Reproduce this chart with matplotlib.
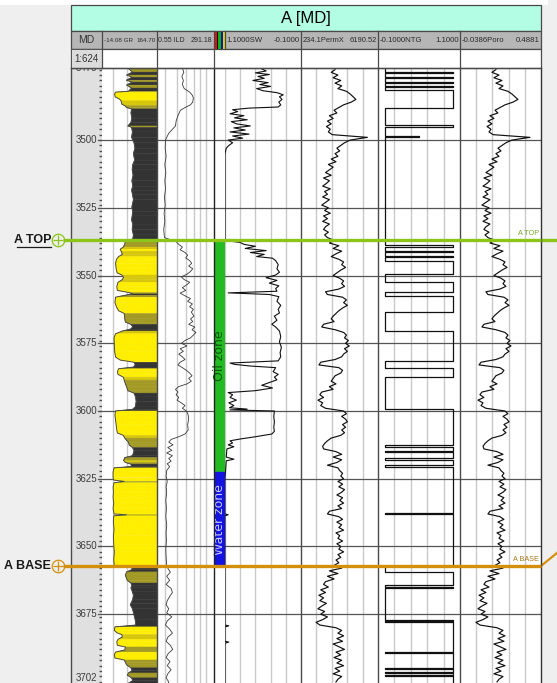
import numpy as np
import matplotlib
matplotlib.use("Agg")
import matplotlib.pyplot as plt
from matplotlib.patches import Rectangle
from matplotlib.collections import PolyCollection
from matplotlib.lines import Line2D
from matplotlib.transforms import blended_transform_factory, offset_copy, IdentityTransform

plt.rcParams['font.family'] = ['Liberation Sans Narrow', 'Liberation Sans', 'DejaVu Sans']

# ---------------------------------------------------------------- well data
well_title = "A [MD]"
depth_top, depth_bottom = 3473.4, 3700.4
depth_ticks = [3500, 3525, 3550, 3575, 3600, 3625, 3650, 3675]
depth_top_label, depth_bottom_label = "3473", "3702"
scale_label = "1:624"

gr_range = (-14.08, 164.70)
ild_range = (0.55, 291.18)
sw_range = (1.1, -0.1)
permx_range = (234.1, 6190.52)
ntg_range = (-0.1, 1.1)
poro_range = (-0.0386, 0.4881)

tops_names = ["A TOP", "A BASE"]
tops_depth = [3536.9, 3657.2]
tops_colour = ["#8cc41a", "#d4900c"]
tops_text_colour = ["#7aa82a", "#a87818"]

zone_names = ["Oil zone", "Water zone"]
zone_top = [3536.9, 3622.6]
zone_base = [3622.6, 3657.2]
zone_fill = ["#22bb22", "#1414e0"]
zone_text = ["#0a5a0a", "#c8c8ff"]

# gamma ray (API)
gr_depth = [
    3473.4, 3474.9, 3476.0, 3476.8, 3477.9, 3478.6, 3479.7, 3480.8, 3482.0, 3482.3,
    3483.0, 3484.1, 3484.8, 3485.5, 3486.7, 3487.3, 3488.0, 3488.5, 3490.0, 3491.9,
    3493.5, 3494.8, 3495.3, 3497.0, 3499.0, 3501.0, 3503.0, 3505.0, 3507.4, 3509.0,
    3511.0, 3512.9, 3515.0, 3517.0, 3518.5, 3520.0, 3522.0, 3524.7, 3526.5, 3528.0,
    3529.5, 3531.0, 3533.0, 3535.0, 3536.5, 3537.2, 3538.4, 3539.5, 3540.3, 3541.0,
    3542.2, 3543.0, 3544.0, 3545.5, 3547.5, 3549.0, 3549.8, 3550.6, 3551.5, 3552.5,
    3554.0, 3555.5, 3556.3, 3556.8, 3557.3, 3558.0, 3560.0, 3561.6, 3563.0, 3564.0,
    3566.0, 3567.2, 3568.0, 3569.0, 3569.8, 3570.5, 3571.5, 3573.0, 3575.6, 3578.0,
    3580.1, 3581.2, 3582.0, 3583.0, 3583.8, 3584.4, 3585.5, 3586.5, 3587.5, 3588.6,
    3590.0, 3591.1, 3592.5, 3593.4, 3594.8, 3596.5, 3598.5, 3599.4, 3600.0, 3601.5,
    3603.3, 3605.0, 3607.0, 3608.1, 3609.0, 3610.0, 3610.7, 3611.5, 3612.5, 3613.5,
    3614.5, 3615.5, 3616.5, 3617.2, 3618.3, 3619.0, 3619.6, 3620.5, 3621.0, 3622.5,
    3624.5, 3625.5, 3626.0, 3626.5, 3628.0, 3630.0, 3632.0, 3634.0, 3636.0, 3638.0,
    3638.3, 3638.7, 3641.0, 3643.9, 3646.0, 3649.4, 3652.0, 3655.0, 3657.0, 3657.4,
    3658.5, 3659.4, 3660.5, 3661.3, 3662.5, 3663.5, 3664.5, 3665.3, 3666.5, 3667.9,
    3669.5, 3671.0, 3671.6, 3673.0, 3675.3, 3677.1, 3679.0, 3679.7, 3681.0, 3681.9,
    3682.5, 3683.4, 3684.3, 3685.2, 3686.5, 3687.1, 3688.2, 3689.0, 3690.0, 3691.2,
    3691.9, 3692.8, 3693.7, 3694.8, 3695.8, 3696.7, 3697.5, 3698.5, 3699.5, 3700.6,
]
gr_api = [
    70, 85, 66, 84, 65, 84, 66, 82, 72, 30,
    27, 29, 42, 48, 50, 60, 66, 82, 80, 83,
    80, 70, 82, 85, 82, 90, 93, 88, 92, 86,
    84, 87, 83, 86, 82, 85, 88, 83, 86, 84,
    82, 86, 84, 88, 86, 62, 60, 55, 45, 48,
    52, 40, 33, 30, 32, 35, 50, 56, 52, 38,
    34, 36, 75, 85, 60, 30, 28, 33, 40, 58,
    60, 62, 80, 86, 78, 52, 30, 25, 26, 27,
    30, 45, 90, 94, 88, 40, 36, 38, 55, 58,
    62, 66, 70, 90, 95, 97, 94, 85, 30, 28,
    30, 32, 34, 36, 55, 60, 65, 72, 74, 85,
    90, 88, 85, 60, 56, 62, 80, 82, 25, 22,
    22, 24, 58, 25, 22, 23, 22, 24, 22, 25,
    65, 24, 23, 25, 23, 24, 26, 24, 26, 82,
    84, 66, 62, 64, 68, 80, 83, 80, 84, 88,
    86, 80, 78, 85, 90, 94, 96, 28, 26, 35,
    50, 52, 38, 34, 36, 62, 60, 30, 26, 28,
    58, 62, 66, 80, 84, 72, 68, 82, 86, 70,
]

# deep resistivity (ohm.m)
ild_depth = [
    3473.4, 3475.0, 3476.5, 3478.0, 3479.5, 3481.0, 3482.3, 3483.5, 3484.5, 3486.0,
    3487.0, 3488.0, 3489.0, 3491.0, 3493.0, 3494.8, 3496.0, 3497.5, 3499.0, 3500.0,
    3503.0, 3506.0, 3509.0, 3512.0, 3515.0, 3518.0, 3521.0, 3524.0, 3527.0, 3530.0,
    3533.0, 3536.0, 3537.5, 3538.5, 3539.5, 3540.5, 3541.5, 3542.5, 3543.5, 3544.5,
    3545.5, 3546.5, 3547.5, 3548.5, 3549.5, 3550.5, 3551.5, 3552.5, 3553.5, 3554.5,
    3555.5, 3556.5, 3557.5, 3558.5, 3559.5, 3560.5, 3561.5, 3562.5, 3563.5, 3565.0,
    3566.0, 3567.0, 3568.0, 3569.0, 3570.0, 3571.0, 3572.0, 3573.0, 3574.0, 3575.0,
    3576.0, 3577.0, 3578.0, 3579.0, 3580.0, 3581.0, 3582.0, 3583.0, 3584.0, 3585.0,
    3586.0, 3587.0, 3588.0, 3589.0, 3590.0, 3591.0, 3592.0, 3593.0, 3594.0, 3595.0,
    3596.0, 3597.0, 3598.0, 3599.0, 3600.0, 3601.5, 3603.0, 3605.0, 3607.0, 3608.5,
    3609.5, 3610.5, 3611.5, 3612.5, 3613.5, 3614.5, 3615.5, 3616.5, 3617.5, 3618.5,
    3619.5, 3620.5, 3622.0, 3624.0, 3626.0, 3628.0, 3630.0, 3633.0, 3636.0, 3639.0,
    3642.0, 3645.0, 3648.0, 3651.0, 3654.0, 3657.0, 3658.0, 3659.5, 3661.0, 3662.5,
    3664.0, 3665.5, 3667.0, 3668.5, 3670.0, 3671.5, 3673.0, 3674.5, 3676.0, 3677.5,
    3679.0, 3680.5, 3682.0, 3683.5, 3685.0, 3686.5, 3688.0, 3689.5, 3691.0, 3692.5,
    3694.0, 3695.5, 3697.0, 3698.5, 3700.0, 3700.6,
]
ild_ohmm = [
    9.0, 10.5, 8.5, 10.0, 9.0, 11.0, 20.0, 27.0, 30.0, 28.0,
    22.0, 12.0, 7.2, 5.5, 4.5, 4.2, 3.0, 2.0, 1.6, 1.4,
    1.35, 1.5, 1.3, 1.45, 1.3, 1.4, 1.25, 1.35, 1.2, 1.3,
    1.15, 1.25, 4.5, 6.0, 9.0, 7.0, 12.0, 16.0, 13.0, 20.0,
    25.0, 18.0, 28.0, 22.0, 15.0, 8.0, 11.0, 20.0, 14.0, 9.0,
    13.0, 7.0, 12.0, 22.0, 16.0, 27.0, 20.0, 30.0, 24.0, 32.0,
    22.0, 28.0, 18.0, 35.0, 26.0, 40.0, 30.0, 22.0, 12.0, 8.0,
    15.0, 7.0, 10.0, 6.0, 9.0, 12.0, 7.0, 5.5, 9.0, 14.0,
    20.0, 26.0, 18.0, 24.0, 15.0, 6.0, 4.2, 5.5, 4.5, 6.0,
    5.0, 8.0, 12.0, 9.0, 14.0, 17.0, 18.0, 16.0, 17.0, 12.0,
    6.0, 2.6, 2.0, 3.2, 1.8, 2.8, 1.6, 3.0, 2.0, 2.6,
    1.7, 2.2, 1.6, 1.5, 1.7, 1.5, 1.6, 1.45, 1.55, 1.45,
    1.6, 1.5, 1.55, 1.45, 1.5, 1.6, 1.8, 2.4, 1.6, 2.2,
    1.5, 2.6, 3.0, 2.2, 1.7, 1.5, 2.0, 1.6, 2.8, 1.7,
    1.4, 2.2, 3.0, 1.8, 1.5, 2.4, 3.1, 1.9, 1.5, 2.3,
    1.7, 2.6, 1.8, 1.5, 2.0, 1.8,
]

# water saturation (fraction)
sw_depth = [
    3473.4, 3474.5, 3475.2, 3475.8, 3476.5, 3477.2, 3478.0, 3478.8, 3479.5, 3480.2,
    3481.0, 3481.8, 3482.5, 3483.3, 3484.0, 3485.0, 3486.0, 3487.0, 3487.8, 3488.2,
    3488.8, 3489.5, 3490.3, 3491.0, 3491.8, 3492.5, 3493.2, 3494.0, 3494.8, 3495.5,
    3496.3, 3497.0, 3497.8, 3498.5, 3499.3, 3500.0, 3501.0, 3502.0, 3503.0, 3505.0,
    3536.5, 3537.2, 3537.8, 3538.5, 3539.2, 3540.0, 3540.8, 3541.5, 3542.2, 3543.0,
    3543.6, 3544.5, 3546.0, 3547.5, 3548.8, 3549.8, 3550.8, 3551.8, 3552.8, 3553.8,
    3554.8, 3555.8, 3556.4, 3557.0, 3557.8, 3559.5, 3561.0, 3562.5, 3563.8, 3565.0,
    3566.5, 3568.0, 3569.0, 3570.5, 3572.5, 3574.5, 3576.5, 3578.5, 3580.0, 3581.5,
    3582.3, 3582.8, 3583.4, 3584.0, 3585.5, 3586.5, 3587.5, 3588.5, 3589.5, 3590.5,
    3591.5, 3592.5, 3593.2, 3594.0, 3595.0, 3596.0, 3597.0, 3598.0, 3598.8, 3599.3,
    3599.6, 3600.0, 3602.0, 3604.0, 3606.0, 3607.5, 3608.5, 3609.5, 3610.3, 3611.0,
    3611.8, 3612.5, 3613.2, 3614.0, 3617.0, 3617.8, 3618.4, 3625.0, 3638.0, 3638.3,
    3638.7, 3679.0, 3679.3, 3679.7, 3685.0, 3685.3, 3685.7, 3700.6,
]
sw_frac = [
    0.55, 0.45, 0.62, 0.40, 0.58, 0.48, 0.66, 0.42, 0.55, 0.38,
    0.60, 0.50, 0.28, 0.18, 0.24, 0.20, 0.25, 0.22, 0.26, 0.72,
    0.98, 0.90, 1.02, 0.80, 0.95, 0.75, 1.00, 0.92, 0.70, 0.96,
    0.78, 1.02, 0.72, 0.98, 0.82, 1.05, 0.98, 1.04, 1.08, 1.10,
    1.10, 1.05, 0.86, 0.80, 0.62, 0.78, 0.45, 0.70, 0.48, 0.60,
    0.35, 0.30, 0.26, 0.28, 0.24, 0.30, 0.45, 0.28, 0.40, 0.25,
    0.30, 0.28, 1.05, 0.40, 0.25, 0.28, 0.22, 0.26, 0.24, 0.32,
    0.28, 0.36, 0.30, 0.24, 0.22, 0.24, 0.21, 0.23, 0.22, 0.26,
    1.02, 0.95, 0.70, 0.30, 0.34, 0.26, 0.32, 0.28, 0.40, 0.52,
    0.35, 0.62, 1.05, 0.98, 1.02, 0.92, 1.04, 0.96, 1.03, 0.75,
    1.02, 0.32, 0.33, 0.32, 0.33, 0.32, 0.36, 0.62, 0.85, 1.02,
    0.98, 1.05, 0.96, 1.07, 1.08, 0.96, 1.08, 1.10, 1.10, 1.05,
    1.10, 1.10, 1.04, 1.10, 1.10, 1.04, 1.10, 1.10,
]

# porosity / permeability, sampled every metre from 3474 m
core_depth = np.arange(3474.0, 3701.0, 1.0)
poro = [
    0.195, 0.169, 0.215, 0.182, 0.234, 0.195, 0.241, 0.215, 0.273, 0.299,
    0.319, 0.338, 0.306, 0.254, 0.221, 0.189, 0.208, 0.156, 0.182, 0.143,
    0.169, 0.137, 0.163, 0.150, 0.176, 0.416, 0.299, 0.260, 0.234, 0.208,
    0.228, 0.195, 0.215, 0.169, 0.202, 0.150, 0.182, 0.156, 0.130, 0.169,
    0.117, 0.156, 0.137, 0.111, 0.163, 0.124, 0.143, 0.111, 0.156, 0.130,
    0.104, 0.150, 0.124, 0.163, 0.117, 0.143, 0.111, 0.156, 0.130, 0.117,
    0.150, 0.124, 0.143, 0.189, 0.156, 0.221, 0.182, 0.241, 0.202, 0.169,
    0.221, 0.254, 0.241, 0.267, 0.234, 0.208, 0.182, 0.228, 0.254, 0.241,
    0.260, 0.221, 0.130, 0.143, 0.247, 0.273, 0.254, 0.280, 0.247, 0.221,
    0.202, 0.182, 0.169, 0.189, 0.117, 0.104, 0.195, 0.254, 0.273, 0.260,
    0.286, 0.267, 0.293, 0.260, 0.280, 0.254, 0.241, 0.195, 0.098, 0.085,
    0.221, 0.247, 0.234, 0.195, 0.182, 0.169, 0.202, 0.156, 0.182, 0.104,
    0.091, 0.117, 0.078, 0.111, 0.098, 0.130, 0.254, 0.273, 0.241, 0.267,
    0.280, 0.247, 0.267, 0.241, 0.260, 0.234, 0.169, 0.143, 0.124, 0.111,
    0.117, 0.202, 0.241, 0.182, 0.241, 0.208, 0.143, 0.215, 0.228, 0.247,
    0.234, 0.254, 0.215, 0.247, 0.221, 0.260, 0.241, 0.208, 0.247, 0.228,
    0.254, 0.215, 0.241, 0.156, 0.143, 0.221, 0.247, 0.208, 0.241, 0.221,
    0.254, 0.202, 0.228, 0.215, 0.247, 0.208, 0.234, 0.221, 0.254, 0.215,
    0.234, 0.202, 0.221, 0.189, 0.241, 0.156, 0.215, 0.143, 0.189, 0.130,
    0.117, 0.150, 0.098, 0.130, 0.085, 0.117, 0.091, 0.137, 0.104, 0.078,
    0.124, 0.098, 0.143, 0.111, 0.065, 0.091, 0.202, 0.241, 0.215, 0.254,
    0.208, 0.247, 0.182, 0.221, 0.260, 0.202, 0.234, 0.189, 0.241, 0.208,
    0.254, 0.195, 0.228, 0.182, 0.241, 0.215, 0.202,
]
permx = [
    2870, 2570, 3090, 2720, 3310, 2870, 3380, 3090, 3750, 4040,
    4260, 4480, 4120, 3530, 3160, 2790, 3010, 2430, 2720, 2280,
    2570, 2200, 2500, 2350, 2650, 5370, 4040, 3600, 3310, 3010,
    3230, 2870, 3090, 2570, 2940, 2350, 2720, 2430, 2130, 2570,
    1980, 2430, 2200, 1910, 2500, 2060, 2280, 1910, 2430, 2130,
    1840, 2350, 2060, 2500, 1980, 2280, 1910, 2430, 2130, 1980,
    2350, 2060, 2280, 2790, 2430, 3160, 2720, 3380, 2940, 2570,
    3160, 3530, 3380, 3680, 3310, 3010, 2720, 3230, 3530, 3380,
    3600, 3160, 2130, 2280, 3450, 3750, 3530, 3820, 3450, 3160,
    2940, 2720, 2570, 2790, 1980, 1840, 2870, 3530, 3750, 3600,
    3900, 3680, 3970, 3600, 3820, 3530, 3380, 2870, 1760, 1620,
    3160, 3450, 3310, 2870, 2720, 2570, 2940, 2430, 2720, 1840,
    1690, 1980, 1540, 1910, 1760, 2130, 3530, 3750, 3380, 3680,
    3820, 3450, 3680, 3380, 3600, 3310, 2570, 2280, 2060, 1910,
    1980, 2940, 3380, 2720, 3380, 3010, 2280, 3090, 3230, 3450,
    3310, 3530, 3090, 3450, 3160, 3600, 3380, 3010, 3450, 3230,
    3530, 3090, 3380, 2430, 2280, 3160, 3450, 3010, 3380, 3160,
    3530, 2940, 3230, 3090, 3450, 3010, 3310, 3160, 3530, 3090,
    3310, 2940, 3160, 2790, 3380, 2430, 3090, 2280, 2790, 2130,
    1980, 2350, 1760, 2130, 1620, 1980, 1690, 2200, 1840, 1540,
    2060, 1760, 2280, 1910, 1400, 1690, 2940, 3380, 3090, 3530,
    3010, 3450, 2720, 3160, 3600, 2940, 3310, 2790, 3380, 3010,
    3530, 2870, 3230, 2720, 3380, 3090, 2940,
]

# net-to-gross flag, constant between successive interval tops
ntg_top = [
    3473.4, 3474.9, 3475.3, 3476.7, 3477.1, 3478.4, 3478.8, 3479.9, 3480.3, 3481.5,
    3488.2, 3494.5, 3495.3, 3498.6, 3499.0, 3538.9, 3539.3, 3540.9, 3541.3, 3542.9,
    3543.3, 3544.5, 3549.6, 3552.3, 3556.2, 3557.5, 3563.5, 3570.5, 3581.5, 3584.3,
    3587.3, 3599.3, 3612.5, 3613.4, 3614.8, 3615.2, 3617.3, 3618.0, 3620.0, 3620.6,
    3637.6, 3638.0, 3657.3, 3659.4, 3664.2, 3665.1, 3665.5, 3677.0, 3677.5, 3678.0,
    3689.1, 3689.5, 3695.0, 3695.4, 3696.2, 3696.6, 3697.6, 3698.0,
]
ntg_flag = [
    0, 1, 0, 1, 0, 1, 0, 1, 0, 1,
    0, 1, 0, 0.5, 0, 1, 0, 1, 0, 1,
    0, 1, 0, 1, 0, 1, 0, 1, 0, 1,
    0, 1, 0, 1, 0, 1, 0, 1, 0, 1,
    0, 1, 0, 1, 0, 1, 0, 1, 0, 1,
    0, 1, 0, 1, 0, 1, 0, 1,
]

assert len(gr_depth) == len(gr_api)
assert len(ild_depth) == len(ild_ohmm)
assert len(sw_depth) == len(sw_frac)
assert len(core_depth) == len(poro) == len(permx)
assert len(ntg_top) == len(ntg_flag)

# ---------------------------------------------------------------- layout (pixels)
W, H = 557, 683
Y_DATA0, Y_DATA1 = 68, 683
X_MD = (71, 102)
X_GR = (102, 157)
X_ILD = (157, 214)
X_ZONE = (214, 225)
X_SW = (225, 301)
X_PERM = (301, 378)
X_NTG = (378, 460)
X_PORO = (460, 541)

GRID = '#c9c9c9'
DEPTH_LINE = '#555555'
BORDER = '#4a4a4a'
NARROW = ['Liberation Sans Narrow', 'Liberation Sans', 'DejaVu Sans']

fig = plt.figure(figsize=(W / 100, H / 100), dpi=100)
fig.patch.set_facecolor('#efefef')


def px_axes(x0, y0, x1, y1, **kw):
    return fig.add_axes([x0 / W, 1 - y1 / H, (x1 - x0) / W, (y1 - y0) / H], **kw)


def make_track(xs, xlim, xscale='linear', face='white', grid=()):
    ax = px_axes(xs[0], Y_DATA0, xs[1], Y_DATA1)
    ax.set_xscale(xscale)
    ax.set_xlim(*xlim)
    ax.set_ylim(depth_bottom, depth_top)
    ax.set_facecolor(face)
    ax.tick_params(which='both', length=0, labelbottom=False, labelleft=False)
    for s in ax.spines.values():
        s.set_visible(False)
    for f in grid:
        ax.plot([f, f], [0, 1], transform=ax.transAxes, color=GRID, lw=1.0, zorder=1)
    for d in depth_ticks:
        ax.axhline(d, color=DEPTH_LINE, lw=0.9, zorder=1.5)
    return ax


# ---------------------------------------------------------------- MD track
ax_md = make_track(X_MD, (0, 1), face='#e0e0e0')
md_blend = blended_transform_factory(ax_md.transAxes, ax_md.transData)
for line in ax_md.lines:
    line.set_xdata([0.86, 1.0])
for d in depth_ticks:
    ax_md.text(0.84, d, f"{d}", transform=md_blend, ha='right', va='center',
               fontsize=7, color='#3c3c3c', family=NARROW)
ax_md.text(0.84, depth_top, depth_top_label, transform=md_blend, ha='right', va='center',
           fontsize=7, color='#3c3c3c', family=NARROW, clip_on=False)
ax_md.text(0.84, depth_bottom, depth_bottom_label, transform=md_blend, ha='right',
           va='bottom', fontsize=7, color='#3c3c3c', family=NARROW)
minor = np.arange(3474, 3701, 2)
ax_md.plot(np.full(minor.shape, 0.97), minor, transform=md_blend, ls='none',
           marker='_', ms=2.2, mew=1.0, color='#505050')

# ---------------------------------------------------------------- GR track
ax_gr = make_track(X_GR, gr_range, grid=(0.2, 0.45, 0.7))


def gr_colour(v):
    if v < 48:
        return '#ffee00'
    if v < 58:
        return '#d6c60c'
    if v < 78:
        return '#a39a26'
    return '#333333'


# lithology shading from the curve to the right edge, coloured by the value at each sample
polys, cols = [], []
for i in range(len(gr_depth) - 1):
    d0, d1 = gr_depth[i], gr_depth[i + 1]
    v0, v1 = gr_api[i], gr_api[i + 1]
    polys.append([(v0, d0), (v1, d1), (gr_range[1], d1), (gr_range[1], d0)])
    cols.append(gr_colour(v0))
ax_gr.add_collection(PolyCollection(polys, facecolors=cols, edgecolors=cols,
                                    linewidths=0.3, zorder=2))
ax_gr.plot(gr_api, gr_depth, color='#4a4a4a', lw=0.7, zorder=3)

# ---------------------------------------------------------------- ILD track
ax_ild = make_track(X_ILD, ild_range, xscale='log',
                    grid=(0.14, 0.35, 0.51, 0.65, 0.75, 0.86))
ax_ild.plot(ild_ohmm, ild_depth, color='#3a3a3a', lw=0.6, zorder=3)

# ---------------------------------------------------------------- zone track
ax_zone = make_track(X_ZONE, (0, 1))
zblend = blended_transform_factory(ax_zone.transAxes, ax_zone.transData)
for name, top, base, fc, tc in zip(zone_names, zone_top, zone_base, zone_fill, zone_text):
    ax_zone.axhspan(top, base, xmin=0.05, xmax=1.0, color=fc, zorder=2)
    ax_zone.text(0.5, 0.5 * (top + base), name, transform=zblend, rotation=90,
                 ha='center', va='center', color=tc, fontsize=9, family='DejaVu Sans', zorder=3)

# ---------------------------------------------------------------- SW track
ax_sw = make_track(X_SW, sw_range, grid=(0.0, 0.2, 0.4, 0.6, 0.8))
ax_sw.plot(sw_frac, sw_depth, color='#111111', lw=0.8, zorder=3)

# ---------------------------------------------------------------- PermX track
ax_perm = make_track(X_PERM, permx_range, grid=(0.2, 0.4, 0.6, 0.8))
ax_perm.plot(permx, core_depth, color='#111111', lw=0.85, zorder=3)

# ---------------------------------------------------------------- NTG track
ax_ntg = make_track(X_NTG, ntg_range, grid=(0.2, 0.4, 0.6, 0.8))
bounds = ntg_top + [depth_bottom]
xs, ys = [], []
for i, v in enumerate(ntg_flag):
    xs += [v, v]
    ys += [bounds[i], bounds[i + 1]]
ax_ntg.plot(xs, ys, color='#111111', lw=0.9, zorder=3)

# ---------------------------------------------------------------- Poro track
ax_poro = make_track(X_PORO, poro_range, grid=(0.2, 0.4, 0.6, 0.8))
ax_poro.plot(poro, core_depth, color='#111111', lw=0.85, zorder=3)

# ---------------------------------------------------------------- header & frame
over = fig.add_axes([0, 0, 1, 1], zorder=10)
over.set_xlim(0, W)
over.set_ylim(H, 0)
over.axis('off')

over.add_patch(Rectangle((0, 0), 548, 5, fc='white', ec='none'))
over.add_patch(Rectangle((71, 5), 470, 26, fc='#b3fde5', ec=BORDER, lw=0.9))
over.text(306, 18.5, well_title, ha='center', va='center', fontsize=12, family=NARROW)
over.add_patch(Rectangle((71, 31), 470, 18, fc='#b6b6b6', ec=BORDER, lw=0.9))
over.add_patch(Rectangle((71, 49), 470, 19, fc='white', ec=BORDER, lw=0.9))
over.add_patch(Rectangle((71, 49), 31, 19, fc='#dcdcdc', ec=BORDER, lw=0.6))
over.text(86, 40, "MD", ha='center', va='center', fontsize=7.5, color='#333333', family=NARROW)
over.text(99, 58.5, scale_label, ha='right', va='center', fontsize=7, color='#333333', family=NARROW)

headers = [
    (X_GR, f"{gr_range[0]:.2f} GR", f"{gr_range[1]:.2f}", 4.5),
    (X_ILD, f"{ild_range[0]:.2f} ILD", f"{ild_range[1]:.2f}", 5.0),
    (X_SW, f"{sw_range[0]:.4f}SW", f"{sw_range[1]:.4f}", 5.6),
    (X_PERM, f"{permx_range[0]:.1f}PermX", f"{permx_range[1]:.2f}", 5.4),
    (X_NTG, f"{ntg_range[0]:.4f}NTG", f"{ntg_range[1]:.4f}", 5.6),
    (X_PORO, f"{poro_range[0]:.4f}Poro", f"{poro_range[1]:.4f}", 5.6),
]
for (x0, x1), left, right, fs in headers:
    over.text(x0 + 1.5, 40, left, ha='left', va='center', fontsize=fs, color='#2a2a2a', family=NARROW)
    over.text(x1 - 1.5, 40, right, ha='right', va='center', fontsize=fs, color='#2a2a2a', family=NARROW)

# colour key of the zone column header
for x0, x1, c in [(214, 216.8, '#e01010'), (216.8, 218, '#111111'), (218, 220.5, '#10b010'),
                  (220.5, 223, '#1010d0'), (223, 225, '#e0d800')]:
    over.add_patch(Rectangle((x0, 31.5), x1 - x0, 17, fc=c, ec='none'))

for x in [102, 157, 214, 301, 378, 460]:
    over.plot([x, x], [31, 68], color=BORDER, lw=0.9)
over.plot([225, 225], [31, 49], color=BORDER, lw=0.9)

# track borders through the log body
for x, c in [(71, BORDER), (157, BORDER), (214, '#222222'), (301, BORDER),
             (378, BORDER), (460, BORDER), (541, '#333333')]:
    over.plot([x, x], [Y_DATA0, Y_DATA1], color=c, lw=1.0)
over.plot([71, 541], [Y_DATA0, Y_DATA0], color=BORDER, lw=1.0)

# ---------------------------------------------------------------- well tops
tblend = blended_transform_factory(over.transData, ax_gr.transData)
for name, d, col, tcol, underline in zip(tops_names, tops_depth, tops_colour,
                                         tops_text_colour, [True, False]):
    over.plot([63, 541], [d, d], transform=tblend, color=col, lw=2.4, solid_capstyle='butt')
    over.plot([58], [d], transform=tblend, marker='o', ms=9, mfc='none', mec=col, mew=0.9)
    over.plot([58], [d], transform=tblend, marker='+', ms=7, mec=col, mew=0.9)
    over.text(51, d, name, transform=tblend, ha='right', va='center', fontsize=9,
              fontweight='bold', color='#1a1a1a', family=NARROW)
    if underline:
        ul = offset_copy(tblend, fig=fig, y=-7, units='dots')
        over.plot([17, 51], [d, d], transform=ul, color='#1a1a1a', lw=0.9)
    lab = offset_copy(tblend, fig=fig, y=3, units='dots')
    over.text(539, d, name, transform=lab, ha='right', va='bottom', fontsize=5.2,
              color=tcol, family=NARROW)

# continuation of the top markers beyond the track area
p_top = tblend.transform((541, tops_depth[0]))
fig.add_artist(Line2D([p_top[0], p_top[0] + 16], [p_top[1], p_top[1]],
                      transform=IdentityTransform(), color=tops_colour[0], lw=2.4))
p_base = tblend.transform((541, tops_depth[1]))
fig.add_artist(Line2D([p_base[0], p_base[0] + 16], [p_base[1], p_base[1] + 13],
                      transform=IdentityTransform(), color=tops_colour[1], lw=1.6))

fig.savefig("out.png", dpi=100, facecolor=fig.get_facecolor())
